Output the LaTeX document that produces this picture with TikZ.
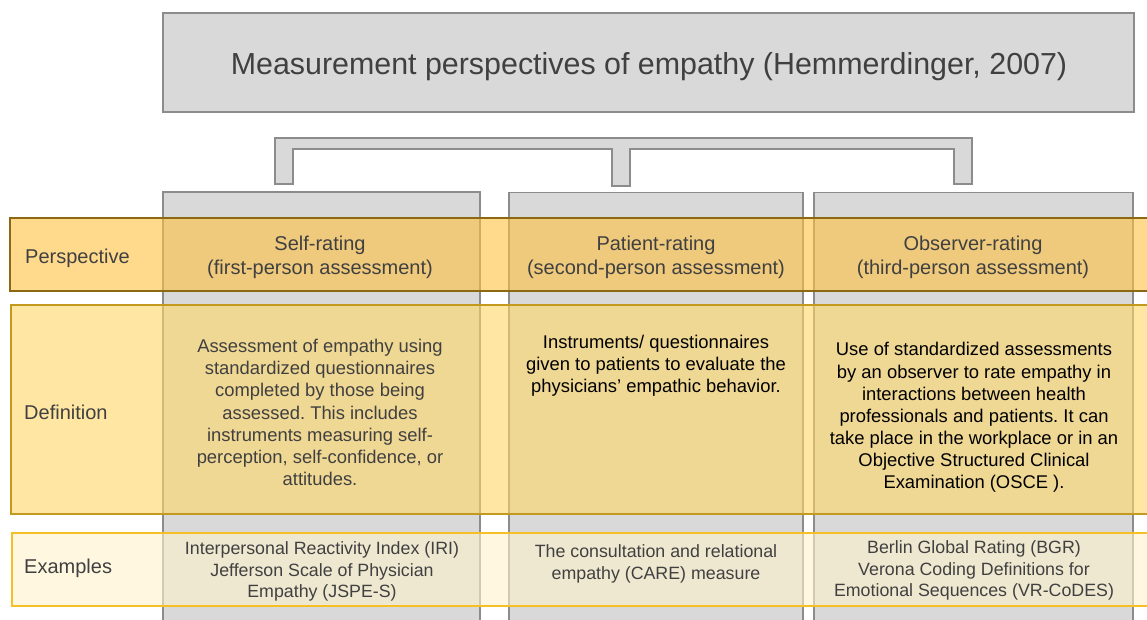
\documentclass[tikz,border=0pt]{standalone}
\usepackage{fontspec}
\setmainfont{Liberation Sans}
\frenchspacing
\definecolor{boxgray}{HTML}{D9D9D9}
\definecolor{boxline}{HTML}{8C8C8C}
\definecolor{txt}{HTML}{404040}
\definecolor{pfill}{HTML}{FFC040}
\definecolor{pline}{HTML}{8B6914}
\definecolor{dfill}{HTML}{FFD766}
\definecolor{dline}{HTML}{C49A1E}
\definecolor{efill}{HTML}{FFF2CC}
\definecolor{eline}{HTML}{F5C023}
\begin{document}
\begin{tikzpicture}[x=1pt,y=-1pt,
  graybox/.style={fill=boxgray,draw=boxline,line width=1.3pt},
  colbox/.style={graybox,inner sep=0pt,minimum height=438pt},
  band/.style={fill opacity=0.6,inner sep=0pt,line width=1.4pt},
  ptext/.style={text=txt,align=center,font=\fontsize{20}{24}\selectfont\frenchspacing},
  dtext/.style={text=txt,align=center,font=\fontsize{18.4}{22.1}\selectfont\frenchspacing},
  etext/.style={text=txt,align=center,font=\fontsize{17.8}{21.5}\selectfont\frenchspacing},
  rowlabel/.style={text=txt,anchor=west,inner sep=0pt,font=\fontsize{20}{24}\selectfont}]
\useasboundingbox (0,0) rectangle (1147,619);
\clip (0,0) rectangle (1147,619);
% title
\node[graybox,inner sep=0pt,minimum width=971pt,minimum height=99pt,text=txt,
  font=\fontsize{30.4}{36}\selectfont] (title) at (648.5,62.5) {};
\node[text=txt,font=\fontsize{30.4}{36}\selectfont] (ttext) at (649,66.5)
  {Measurement perspectives of empathy (Hemmerdinger, 2007)};
% bracket
\draw[graybox] (275,138) -- (972,138) -- (972,184) -- (954,184) -- (954,149)
  -- (630,149) -- (630,186) -- (612,186) -- (612,149) -- (293,149)
  -- (293,184) -- (275,184) -- cycle;
% columns
\node[colbox,minimum width=317pt] (col1) at (321.5,411) {};
\node[colbox,minimum width=294pt] (col2) at (656,411.5) {};
\node[colbox,minimum width=319pt] (col3) at (973.5,411.5) {};
% bands
\node[band,fill=pfill,draw=pline,minimum width=1150pt,minimum height=73pt] (pband) at (585,254.5) {};
\node[band,fill=dfill,draw=dline,minimum width=1149pt,minimum height=209pt] (dband) at (585.5,409.5) {};
\node[band,fill=efill,draw=eline,minimum width=1148pt,minimum height=73pt] (eband) at (586,569.5) {};
% row labels
\node[rowlabel] (lp) at (25,258) {Perspective};
\node[rowlabel] (ld) at (24,412) {Definition};
\node[rowlabel] (le) at (24,568.5) {Examples};
% perspective
\node[ptext] (p1) at (320,257) {Self-rating\\(first-person assessment)};
\node[ptext] (p2) at (656,257) {Patient-rating\\(second-person assessment)};
\node[ptext] (p3) at (973,257) {Observer-rating\\(third-person assessment)};
% definitions
\node[dtext] (d1) at (320,412.5) {Assessment of empathy using\\standardized questionnaires\\completed by those being\\assessed. This includes\\instruments measuring self-\\perception, self-confidence, or\\attitudes.};
\node[dtext,text=black] (d2) at (656,365.5) {Instruments/ questionnaires\\given to patients to evaluate the\\physicians’ empathic behavior.};
\node[dtext,text=black] (d3) at (974,417.5) {Use of standardized assessments\\by an observer to rate empathy in\\interactions between health\\professionals and patients. It can\\take place in the workplace or in an\\Objective Structured Clinical\\Examination (OSCE ).};
% examples
\node[etext] (e1) at (322,571.5) {Interpersonal Reactivity Index (IRI)\\Jefferson Scale of Physician\\Empathy (JSPE-S)};
\node[etext] (e2) at (656,564) {The consultation and relational\\empathy (CARE) measure};
\node[etext] (e3) at (974,570.5) {Berlin Global Rating (BGR)\\Verona Coding Definitions for\\Emotional Sequences (VR-CoDES)};
\end{tikzpicture}
\end{document}
